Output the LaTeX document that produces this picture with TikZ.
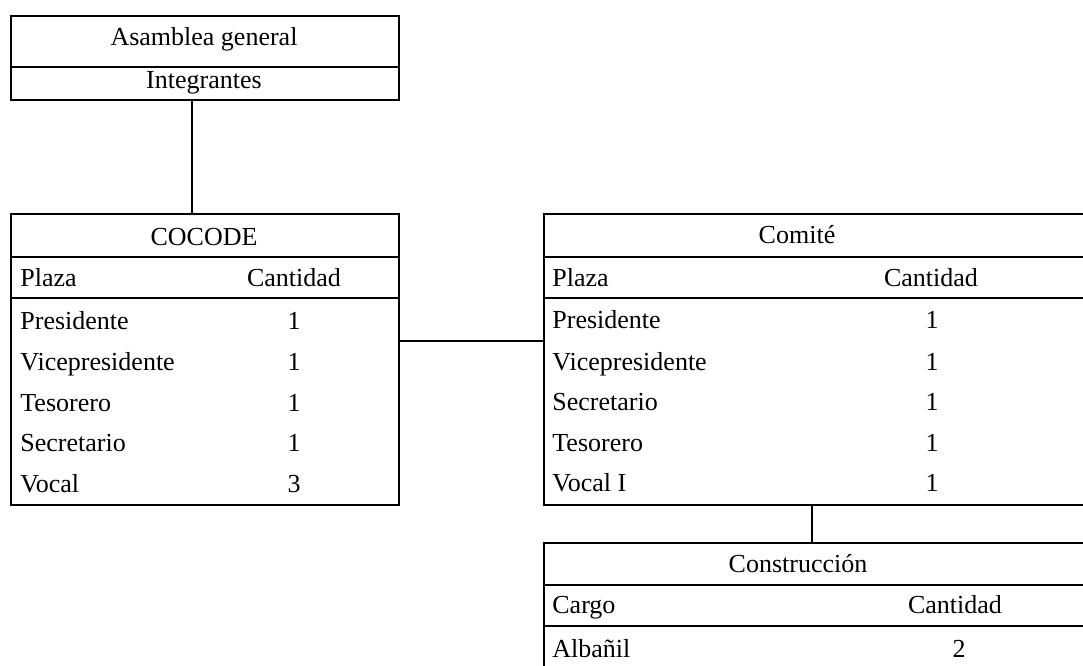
\documentclass[tikz,border=0pt]{standalone}
\usepackage{fontspec}
\setmainfont{Liberation Serif}
\begin{document}
\begin{tikzpicture}[x=0.5pt,y=-0.5pt,
  every node/.style={font=\fontsize{13}{15}\selectfont, inner sep=0pt},
  box/.style={draw, line width=1pt, anchor=north west, minimum height=#1},
  rule/.style={line width=1pt},
  link/.style={line width=1pt},
  lbl/.style={anchor=base west},
  ctr/.style={anchor=base}]
\useasboundingbox (0,0) rectangle (1083,665);
\clip (0,0) rectangle (1083,665);

% Asamblea general
\node[box=42pt, minimum width=194pt] (asam) at (10,15) {};
\draw[rule] (10,67) -- (398,67);
\node[ctr] (asamT) at (204,45) {Asamblea general};
\node[ctr] (asamI) at (204,88) {Integrantes};

% COCODE
\node[box=145.5pt, minimum width=194pt] (cocode) at (10,213) {};
\draw[rule] (10,257) -- (398,257);
\draw[rule] (10,298) -- (398,298);
\node[ctr] (cocT) at (204,245) {COCODE};
\node[lbl] (cocH1) at (20,286) {Plaza};
\node[ctr] (cocH2) at (294,286) {Cantidad};
\node[lbl] (c1) at (20,329) {Presidente};      \node[ctr] (c1n) at (294,329) {1};
\node[lbl] (c2) at (20,370) {Vicepresidente};  \node[ctr] (c2n) at (294,370) {1};
\node[lbl] (c3) at (20,411) {Tesorero};        \node[ctr] (c3n) at (294,411) {1};
\node[lbl] (c4) at (20,451) {Secretario};      \node[ctr] (c4n) at (294,451) {1};
\node[lbl] (c5) at (20,492) {Vocal};           \node[ctr] (c5n) at (294,492) {3};

% Comite
\node[box=145.5pt, minimum width=290pt] (comite) at (543,213) {};
\draw[rule] (543,257) -- (1130,257);
\draw[rule] (543,298) -- (1130,298);
\node[ctr] (comT) at (797,243) {Comité};
\node[lbl] (comH1) at (552,286) {Plaza};
\node[ctr] (comH2) at (931,286) {Cantidad};
\node[lbl] (m1) at (552,328) {Presidente};      \node[ctr] (m1n) at (932,328) {1};
\node[lbl] (m2) at (552,370) {Vicepresidente};  \node[ctr] (m2n) at (932,370) {1};
\node[lbl] (m3) at (552,410) {Secretario};      \node[ctr] (m3n) at (932,410) {1};
\node[lbl] (m4) at (552,451) {Tesorero};        \node[ctr] (m4n) at (932,451) {1};
\node[lbl] (m5) at (552,491) {Vocal I};         \node[ctr] (m5n) at (932,491) {1};

% Construccion
\node[box=80pt, minimum width=290pt] (cons) at (543,542) {};
\draw[rule] (543,585) -- (1130,585);
\draw[rule] (543,626) -- (1130,626);
\node[ctr] (consT) at (798,572) {Construcción};
\node[lbl] (consH1) at (552,613) {Cargo};
\node[ctr] (consH2) at (955,613) {Cantidad};
\node[lbl] (k1) at (552,657) {Albañil};   \node[ctr] (k1n) at (959,657) {2};

% Connectors
\coordinate (ax) at (192,0);
\coordinate (hy) at (0,341);
\coordinate (vx) at (812,0);
\draw[link] (asam.south -| ax) -- (cocode.north -| ax);
\draw[link] (cocode.east |- hy) -- (comite.west |- hy);
\draw[link] (comite.south -| vx) -- (cons.north -| vx);
\end{tikzpicture}
\end{document}
